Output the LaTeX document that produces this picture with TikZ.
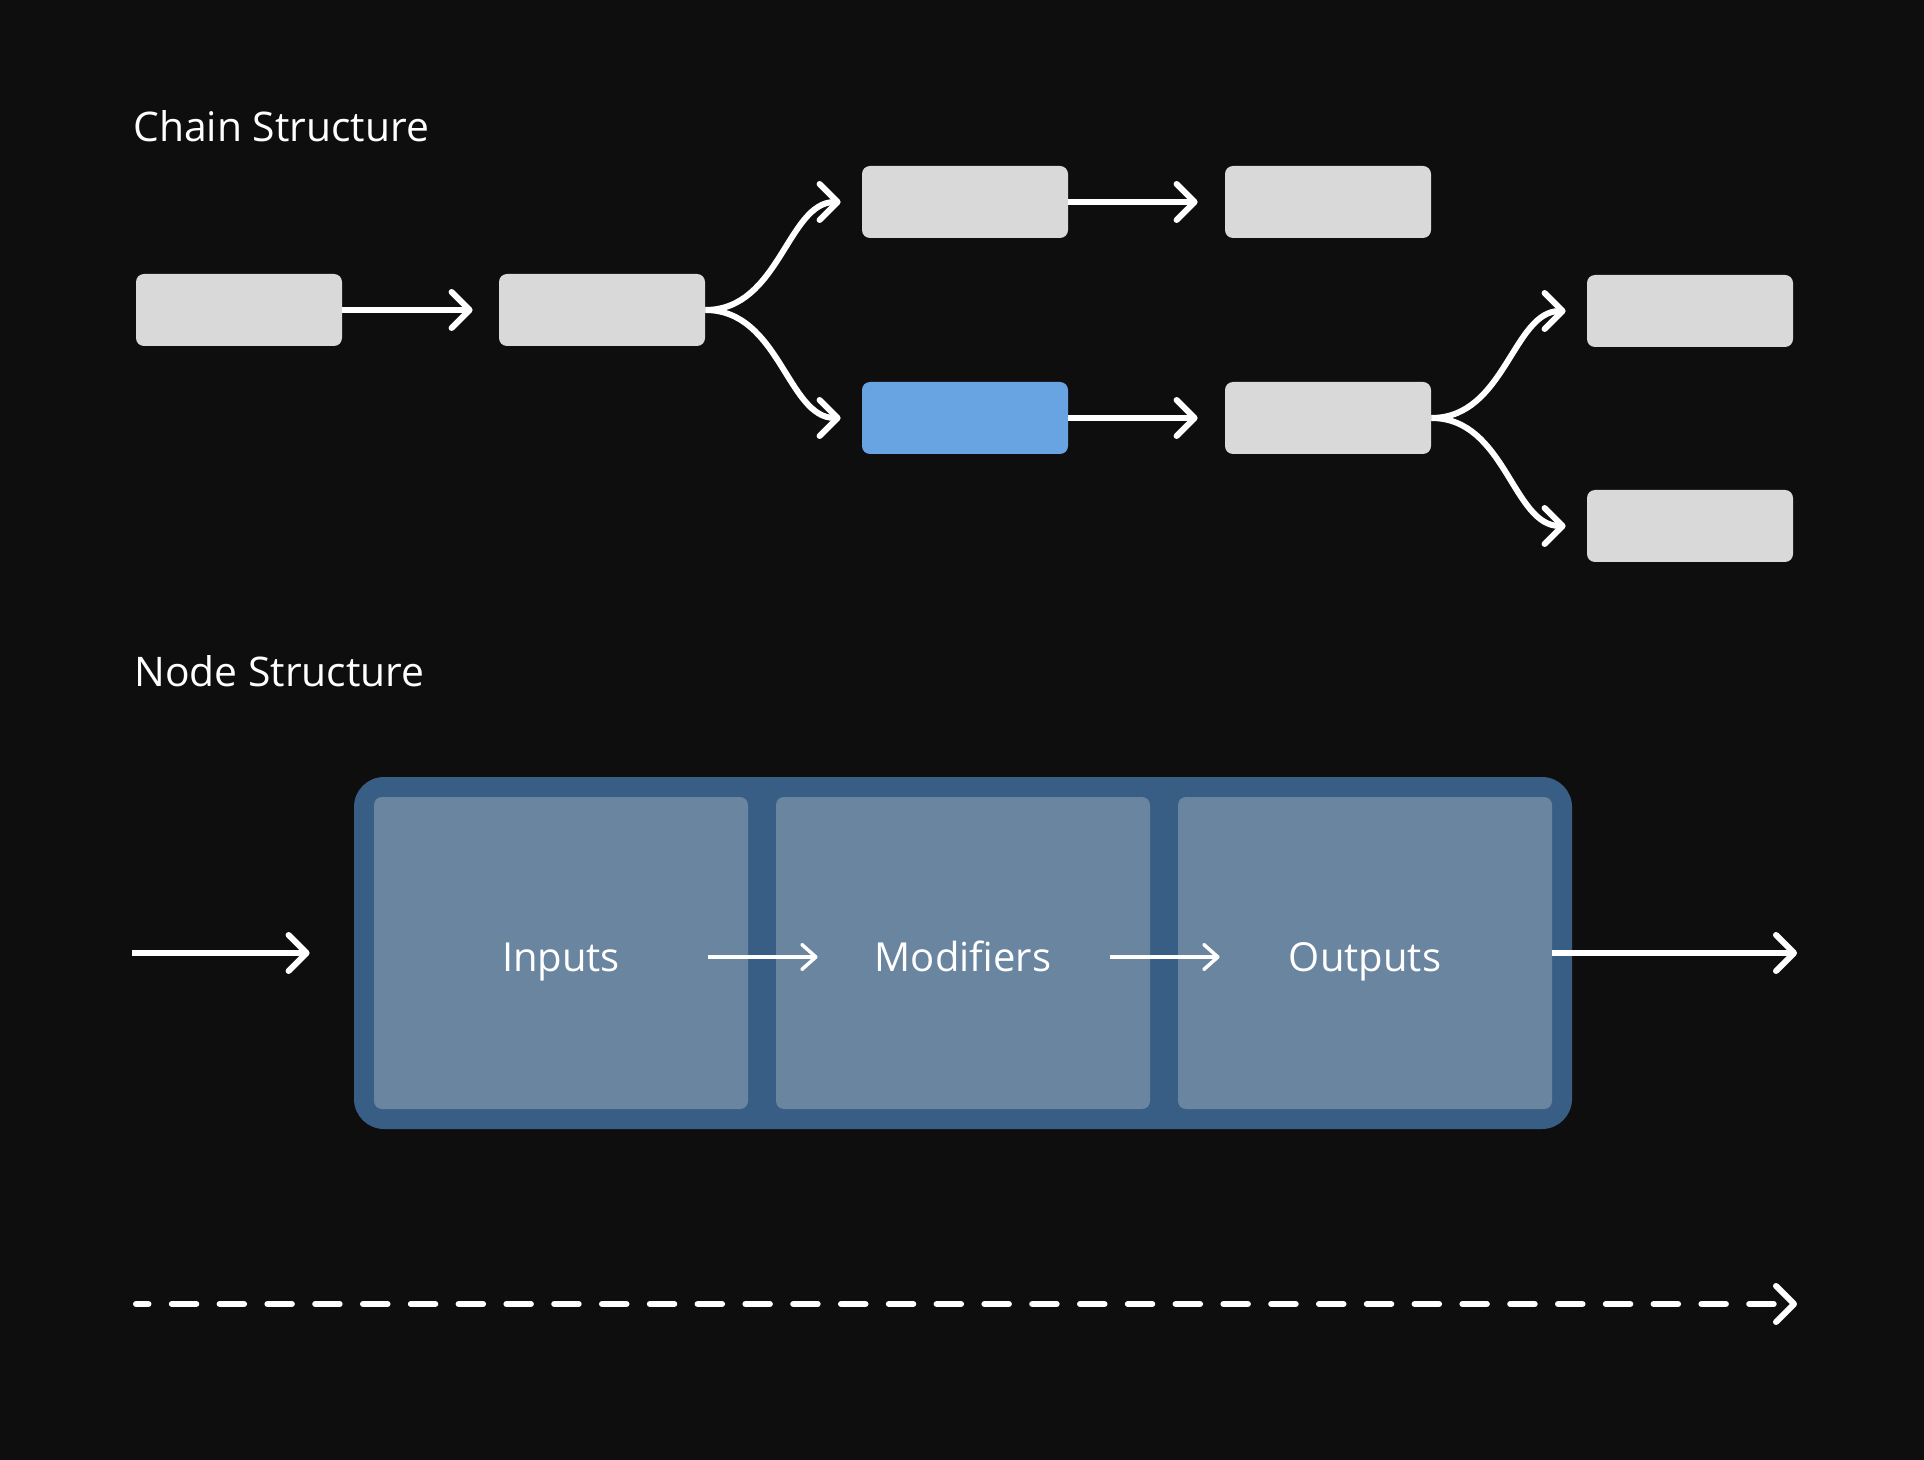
\documentclass[tikz,border=0pt]{standalone}
\usepackage{fontspec}
\setmainfont{Open Sans}
\usetikzlibrary{arrows.meta}
\definecolor{bg}{HTML}{0F0E0F}
\definecolor{boxgray}{HTML}{D9D9D9}
\definecolor{boxblue}{HTML}{68A4E1}
\definecolor{outerblue}{HTML}{395E85}
\definecolor{innerblue}{HTML}{6985A0}
\tikzset{
  chainbox/.style={fill=boxgray, rounded corners=4pt, minimum width=103pt, minimum height=36pt, inner sep=0pt, draw=none},
  hlbox/.style={chainbox, fill=boxblue},
  panel/.style={fill=innerblue, rounded corners=4pt, minimum width=187pt, minimum height=156pt, inner sep=0pt},
  container/.style={fill=outerblue, rounded corners=15pt, minimum width=609pt, minimum height=176pt, inner sep=0pt},
  title/.style={text=white, anchor=base west, inner sep=0pt, font=\fontsize{20.4}{24}\selectfont},
  plabel/.style={text=white, anchor=base, inner sep=0pt, font=\fontsize{20}{24}\selectfont},
  arr/.style={draw=white, line width=3pt, -{Straight Barb[length=9pt,width=18pt,round]}},
  thinarr/.style={draw=white, line width=1.75pt, -{Straight Barb[length=7pt,width=12.5pt,round]}},
}
\begin{document}
\begin{tikzpicture}[x=0.5pt,y=-0.5pt]
\fill[bg] (0,0) rectangle (1924,1460);
\useasboundingbox (0,0) rectangle (1924,1460);

% Chain structure
\node[title] (t1) at (133,142) {Chain Structure};
\node[chainbox] (b1) at (239,310) {};
\node[chainbox] (b2) at (602,310) {};
\node[chainbox] (b3) at (965,202) {};
\node[hlbox]    (b4) at (965,418) {};
\node[chainbox] (b5) at (1328,202) {};
\node[chainbox] (b6) at (1328,418) {};
\node[chainbox] (b7) at (1690,311) {};
\node[chainbox] (b8) at (1690,526) {};

\draw[arr, shorten >=13pt] (b1.east) -- (b2.west);
\draw[arr, shorten >=10.5pt] (b2.east) to[out=0,in=180] (b3.west);
\draw[arr, shorten >=10.5pt] (b2.east) to[out=0,in=180] (b4.west);
\draw[arr, shorten >=13.5pt] (b3.east) -- (b5.west);
\draw[arr, shorten >=13.5pt] (b4.east) -- (b6.west);
\draw[arr, shorten >=10.5pt] (b6.east) to[out=0,in=180] (b7.west);
\draw[arr, shorten >=10.5pt] (b6.east) to[out=0,in=180] (b8.west);

% Node structure
\node[title] (t2) at (134,686) {Node Structure};
\node[container] (outer) at (963,953) {};
\node[panel] (p1) at (561,953) {};
\node[panel] (p2) at (963,953) {};
\node[panel] (p3) at (1365,953) {};
\node[plabel] (l1) at (561,971) {Inputs};
\node[plabel] (l2) at (963,971) {Modifiers};
\node[plabel] (l3) at (1365,971) {Outputs};

\coordinate (inL) at (132,953);
\coordinate (outR) at (1797,953);
\draw[arr, shorten >=22pt] (inL) -- (outer.west);
\draw[arr] (p3.east) -- (outR);
\draw[thinarr, shorten <=-20pt, shorten >=-21pt] ([yshift=-2pt]p1.east) -- ([yshift=-2pt]p2.west);
\draw[thinarr, shorten <=-20pt, shorten >=-21pt] ([yshift=-2pt]p2.east) -- ([yshift=-2pt]p3.west);

% Dashed timeline
\coordinate (dS) at (136,1304);
\coordinate (dE) at (1797,1304);
\draw[arr, line cap=round, dash pattern=on 12.25pt off 11.65pt, dash phase=6pt] (dS) -- (dE);
\end{tikzpicture}
\end{document}
